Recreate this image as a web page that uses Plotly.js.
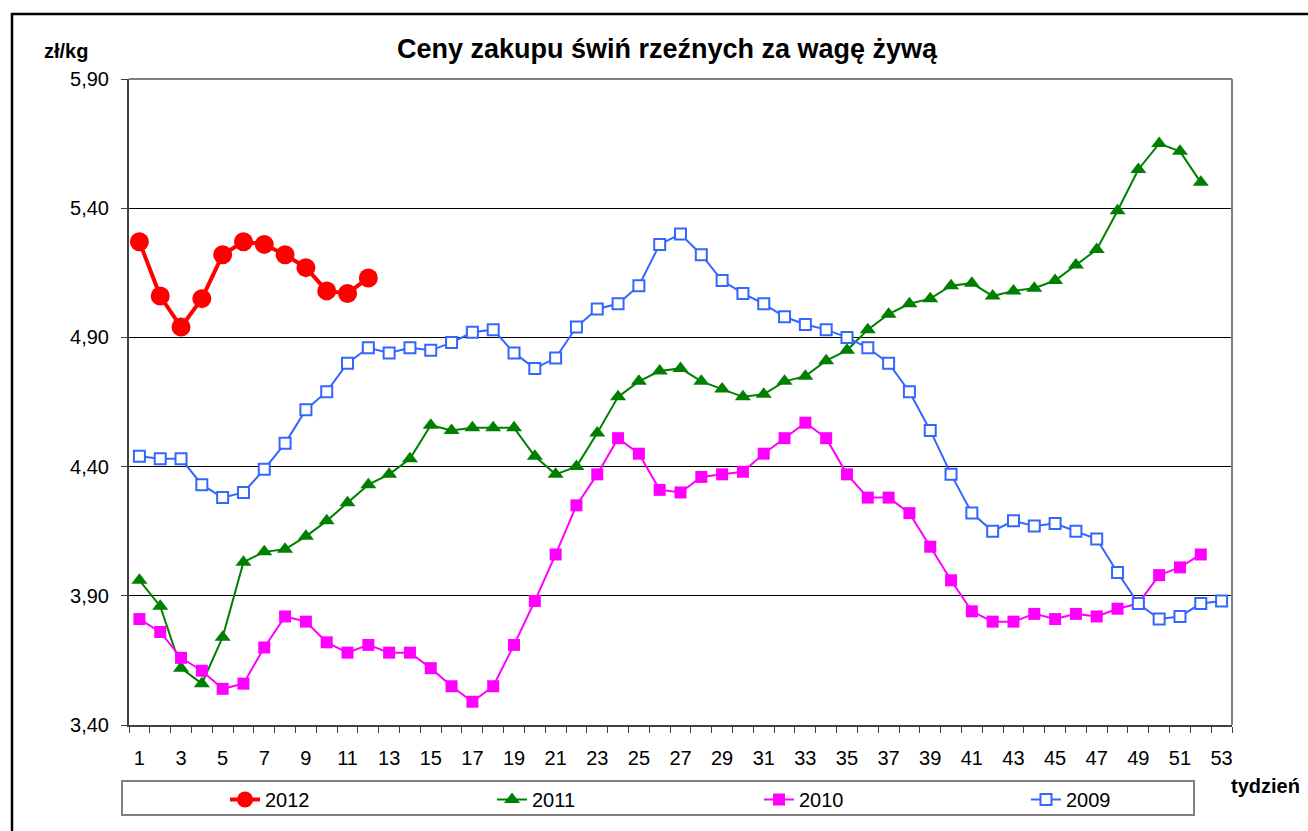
<!DOCTYPE html>
<html>
<head>
<meta charset="utf-8">
<script src="https://cdn.plot.ly/plotly-3.0.1.min.js"></script>
<style>
html,body{margin:0;padding:0;background:#fff;}
#chart{width:1308px;height:831px;}
</style>
</head>
<body>
<div id="chart"></div>
<script>
// ---- data ----
const weeks = [1,2,3,4,5,6,7,8,9,10,11,12,13,14,15,16,17,18,19,20,21,22,23,24,25,26,27,28,29,30,31,32,33,34,35,36,37,38,39,40,41,42,43,44,45,46,47,48,49,50,51,52,53];
const xTickLabels = ["1","3","5","7","9","11","13","15","17","19","21","23","25","27","29","31","33","35","37","39","41","43","45","47","49","51","53"];
const xTickWeeks = [1,3,5,7,9,11,13,15,17,19,21,23,25,27,29,31,33,35,37,39,41,43,45,47,49,51,53];
const seriesNames = ["2012","2011","2010","2009"];
const y2012 = [5.27,5.06,4.94,5.05,5.22,5.27,5.26,5.22,5.17,5.08,5.07,5.13];
const y2011 = [3.96,3.86,3.62,3.56,3.74,4.03,4.07,4.08,4.13,4.19,4.26,4.33,4.37,4.43,4.56,4.54,4.55,4.55,4.55,4.44,4.37,4.40,4.53,4.67,4.73,4.77,4.78,4.73,4.70,4.67,4.68,4.73,4.75,4.81,4.85,4.93,4.99,5.03,5.05,5.10,5.11,5.06,5.08,5.09,5.12,5.18,5.24,5.39,5.55,5.65,5.62,5.50];
const y2010 = [3.81,3.76,3.66,3.61,3.54,3.56,3.70,3.82,3.80,3.72,3.68,3.71,3.68,3.68,3.62,3.55,3.49,3.55,3.71,3.88,4.06,4.25,4.37,4.51,4.45,4.31,4.30,4.36,4.37,4.38,4.45,4.51,4.57,4.51,4.37,4.28,4.28,4.22,4.09,3.96,3.84,3.80,3.80,3.83,3.81,3.83,3.82,3.85,3.87,3.98,4.01,4.06];
const y2009 = [4.44,4.43,4.43,4.33,4.28,4.30,4.39,4.49,4.62,4.69,4.80,4.86,4.84,4.86,4.85,4.88,4.92,4.93,4.84,4.78,4.82,4.94,5.01,5.03,5.10,5.26,5.30,5.22,5.12,5.07,5.03,4.98,4.95,4.93,4.90,4.86,4.80,4.69,4.54,4.37,4.22,4.15,4.19,4.17,4.18,4.15,4.12,3.99,3.87,3.81,3.82,3.87,3.88];
const yTicks = [3.40,3.90,4.40,4.90,5.40,5.90];

// ---- layout helpers (page pixels -> paper) ----
const W = 1308, H = 831;
const PL = 129, PR = 1232, PT = 79, PB = 725;
const px = x => (x - PL) / (PR - PL);
const py = y => (PB - y) / (PB - PT);

const FONT = '"Liberation Sans", Arial, sans-serif';

const traces = [
  {x: weeks.slice(0, y2012.length), y: y2012, name: seriesNames[0], type: 'scatter', mode: 'lines+markers',
   line: {color: '#FF0000', width: 4}, marker: {symbol: 'circle', size: 19, color: '#FF0000'}},
  {x: weeks.slice(0, y2011.length), y: y2011, name: seriesNames[1], type: 'scatter', mode: 'lines+markers',
   line: {color: '#008000', width: 2}, marker: {symbol: 'triangle-up', size: 14, color: '#008000'}},
  {x: weeks.slice(0, y2010.length), y: y2010, name: seriesNames[2], type: 'scatter', mode: 'lines+markers',
   line: {color: '#FF00FF', width: 2}, marker: {symbol: 'square', size: 12, color: '#FF00FF'}},
  {x: weeks.slice(0, y2009.length), y: y2009, name: seriesNames[3], type: 'scatter', mode: 'lines+markers',
   line: {color: '#3366FF', width: 2}, marker: {symbol: 'square', size: 11, color: '#FFFFFF', line: {color: '#3366FF', width: 2}}}
];

const layout = {
  width: W, height: H,
  margin: {l: PL, r: W - PR, t: PT, b: H - PB, pad: 0, autoexpand: false},
  paper_bgcolor: '#FFFFFF', plot_bgcolor: '#FFFFFF',
  separators: ', ',
  font: {family: FONT, size: 20, color: '#000000'},
  showlegend: true,
  title: {
    text: '<b>Ceny zakupu świń rzeźnych za wagę żywą</b>',
    font: {family: FONT, size: 27, color: '#000000'},
    xref: 'paper', x: px(667), xanchor: 'center',
    yref: 'container', y: 1 - 49 / H, yanchor: 'middle'
  },
  xaxis: {
    type: 'linear', range: [0.5, 53.5],
    tickmode: 'array', tickvals: xTickWeeks, ticktext: xTickLabels,
    ticks: '', showgrid: false, zeroline: false,
    showline: true, linecolor: '#404040', linewidth: 2,
    tickfont: {family: FONT, size: 20, color: '#000000'},
    ticklabelstandoff: 14,
    minor: {ticks: 'outside', tick0: 0.5, dtick: 1, ticklen: 6, tickwidth: 1, tickcolor: '#404040', showgrid: false},
    fixedrange: true
  },
  yaxis: {
    range: [3.40, 5.90], tickmode: 'array', tickvals: yTicks, tickformat: '.2f',
    ticks: 'outside', ticklen: 6, tickwidth: 1, tickcolor: '#404040',
    showgrid: true, gridcolor: '#000000', gridwidth: 1, zeroline: false,
    showline: true, linecolor: '#404040', linewidth: 2,
    tickfont: {family: FONT, size: 20, color: '#000000'},
    ticklabelstandoff: 8,
    fixedrange: true
  },
  legend: {
    orientation: 'h', xref: 'paper', yref: 'paper',
    x: px(225), xanchor: 'left', y: py(780), yanchor: 'top',
    entrywidth: 222, entrywidthmode: 'pixels',
    bgcolor: 'rgba(0,0,0,0)', borderwidth: 0,
    font: {family: FONT, size: 20, color: '#000000'},
    traceorder: 'normal', itemclick: false, itemdoubleclick: false
  },
  shapes: [
    // gray plot-area frame (top and right)
    {type: 'line', xref: 'paper', yref: 'paper', x0: 0, x1: 1, y0: 1, y1: 1, line: {color: '#808080', width: 2}, layer: 'above'},
    {type: 'line', xref: 'paper', yref: 'paper', x0: 1, x1: 1, y0: 0, y1: 1, line: {color: '#808080', width: 2}, layer: 'above'},
    // legend box
    {type: 'rect', xref: 'paper', yref: 'paper', x0: px(122), x1: px(1194), y0: py(815), y1: py(781), line: {color: '#808080', width: 2}, fillcolor: 'rgba(0,0,0,0)', layer: 'above'},
    // outer chart border
    {type: 'rect', xref: 'paper', yref: 'paper', x0: px(12), x1: px(1330), y0: py(850), y1: py(14), line: {color: '#000000', width: 2.5}, fillcolor: 'rgba(0,0,0,0)', layer: 'below'}
  ],
  annotations: [
    {text: '<b>zł/kg</b>', xref: 'paper', yref: 'paper', x: px(66), y: py(51), xanchor: 'center', yanchor: 'middle', showarrow: false,
     font: {family: FONT, size: 20, color: '#000000'}},
    {text: '<b>tydzień</b>', xref: 'paper', yref: 'paper', x: px(1265), y: py(786), xanchor: 'center', yanchor: 'middle', showarrow: false,
     font: {family: FONT, size: 20, color: '#000000'}}
  ]
};

Plotly.newPlot('chart', traces, layout, {displayModeBar: false, staticPlot: true});
</script>
</body>
</html>
